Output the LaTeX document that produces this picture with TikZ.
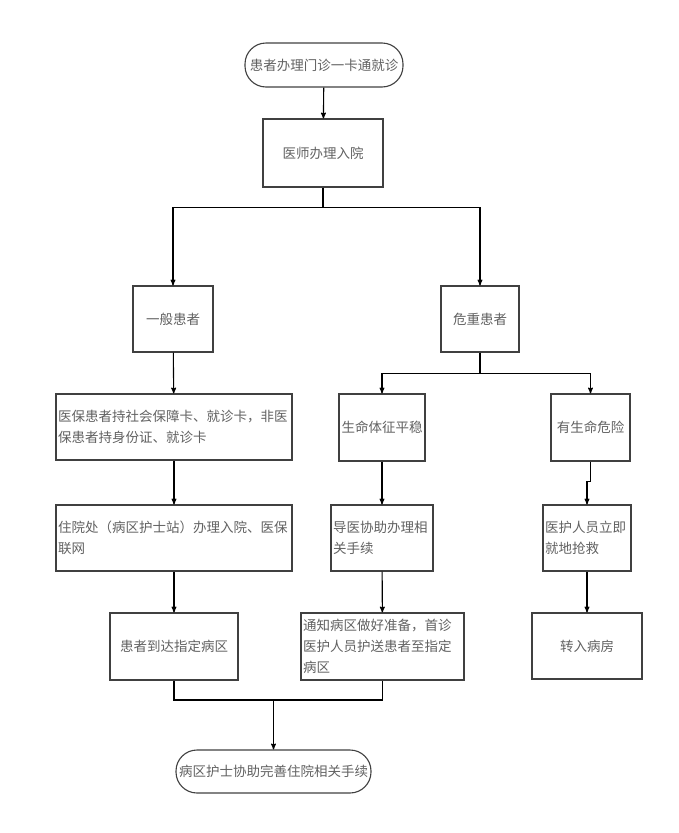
\documentclass[tikz,border=0pt]{standalone}
\usepackage{fontspec}
\setmainfont{Noto Sans CJK SC}
\usetikzlibrary{arrows}

\begin{document}
\begin{tikzpicture}[x=1pt,y=-1pt,>=stealth',line width=1.1pt,
    box/.style={draw=black!75,rectangle,text=black!62,inner sep=2pt,
        font=\fontsize{13.5}{21}\selectfont},
    term/.style={box,rounded corners=21pt},
    wide/.style={box,align=left,text width=#1}]
    \useasboundingbox (0,0) rectangle (679,833);

    \node[term,minimum width=158pt,minimum height=44pt] (start)  at (324,65)    {患者办理门诊一卡通就诊};
    \node[box,minimum width=120pt,minimum height=68pt]  (doctor) at (323,153)   {医师办理入院};
    \node[box,minimum width=80pt,minimum height=66pt]   (normal) at (173,319)   {一般患者};
    \node[box,minimum width=78pt,minimum height=66pt]   (severe) at (480,319)   {危重患者};

    \node[wide=232pt,minimum height=66pt] (card)   at (174,427)   {医保患者持社会保障卡、就诊卡，非医\\保患者持身份证、就诊卡};
    \node[wide=232pt,minimum height=66pt] (admit)  at (174,538)   {住院处（病区护士站）办理入院、医保\\联网};
    \node[box,minimum width=86pt,minimum height=67pt]   (stable) at (382,427.5) {生命体征平稳};
    \node[wide=98pt,minimum height=66pt]  (guide)  at (382,538)   {导医协助办理相\\关手续};
    \node[box,minimum width=79pt,minimum height=67pt]   (danger) at (590.5,427.5) {有生命危险};
    \node[wide=84pt,minimum height=66pt]  (rescue) at (587,538)   {医护人员立即\\就地抢救};

    \node[box,minimum width=128pt,minimum height=67pt]  (arrive) at (174,646.5) {患者到达指定病区};
    \node[wide=159pt,minimum height=67pt] (notify) at (382.5,646.5) {通知病区做好准备，首诊\\医护人员护送患者至指定\\病区};
    \node[box,minimum width=110pt,minimum height=66pt]  (ward)   at (587,646)   {转入病房};
    \node[term,minimum width=195pt,minimum height=43pt] (final)  at (273.5,771.5) {病区护士协助完善住院相关手续};

    \coordinate (merge) at (273.5,700);

    \draw[->] (start) -- (doctor);
    \draw[->] (doctor.south) -- ++(0,20) -| (normal.north);
    \draw[->] (doctor.south) -- ++(0,20) -| (severe.north);
    \draw[->] (severe.south) -- ++(0,21) -| (stable.north);
    \draw[->] (severe.south) -- ++(0,21) -| (danger.north);

    \draw[->] (normal) -- (card);
    \draw[->] (card) -- (admit);
    \draw[->] (admit) -- (arrive);
    \draw[->] (stable) -- (guide);
    \draw[->] (guide) -- (notify);
    \draw[->] (danger.south) -- ++(0,20) -| (rescue.north);
    \draw[->] (rescue) -- (ward);

    \draw (arrive.south) |- (merge) -| (notify.south);
    \draw[->] (merge) -- (final);
\end{tikzpicture}
\end{document}
